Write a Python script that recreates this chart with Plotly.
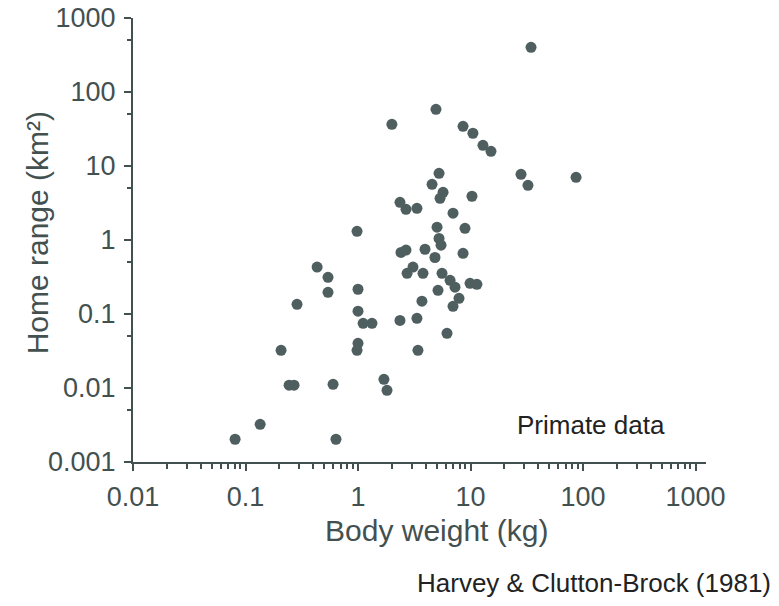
import plotly.graph_objects as go

# Body weight (kg) and home range (km^2)
body_weight = [34.5, 4.93, 2.0, 8.58, 10.5, 12.9, 15.2, 28.1, 32.4, 86.7,
               5.25, 4.55, 5.7, 5.36, 10.3, 2.36, 2.67, 3.34, 6.99, 8.93,
               5.04, 5.25, 5.47, 4.83, 2.41, 2.67, 3.94, 8.58, 3.08, 2.73,
               3.78, 5.58, 6.58, 7.28, 5.14, 9.9, 11.4, 7.9, 6.99, 3.7,
               2.36, 3.34, 6.18, 3.41, 0.433, 0.541, 0.541, 1.0, 0.287, 1.0,
               1.11, 1.33, 1.0, 0.98, 0.207, 0.244, 0.27, 0.6, 1.7, 1.81,
               0.135, 0.0808, 0.637, 0.98]
home_range = [402, 58.3, 36.6, 34.4, 27.7, 19.0, 15.8, 7.73, 5.48, 7.03,
              7.97, 5.66, 4.41, 3.66, 3.9, 3.23, 2.6, 2.68, 2.3, 1.44,
              1.49, 1.05, 0.85, 0.58, 0.68, 0.73, 0.75, 0.66, 0.43, 0.355,
              0.355, 0.355, 0.285, 0.23, 0.209, 0.26, 0.252, 0.163, 0.127, 0.149,
              0.082, 0.0875, 0.0548, 0.0323, 0.43, 0.313, 0.196, 0.216, 0.135, 0.109,
              0.0748, 0.0748, 0.0402, 0.0323, 0.0323, 0.0109, 0.0109, 0.0112, 0.0131, 0.0093,
              0.00323, 0.00203, 0.00203, 1.31]

x_tickvals = [0.01, 0.1, 1, 10, 100, 1000]
x_ticktext = ["0.01", "0.1", "1", "10", "100", "1000"]
y_tickvals = [0.001, 0.01, 0.1, 1, 10, 100, 1000]
y_ticktext = ["0.001", "0.01", "0.1", "1", "10", "100", "1000"]
y_minor = [0.005, 0.05, 0.5, 5, 50, 500]

ink = "#435050"
dot = "#4f5f60"

fig = go.Figure()
fig.add_trace(go.Scatter(
    x=body_weight, y=home_range, mode="markers",
    marker=dict(size=11, color=dot, line=dict(width=0)),
    showlegend=False, hoverinfo="x+y"))

fig.update_layout(
    width=779, height=606,
    margin=dict(l=133, r=73, t=18, b=144),
    paper_bgcolor="white", plot_bgcolor="white",
    font=dict(family="Liberation Sans, Arial, sans-serif", color=ink, size=27),
    xaxis=dict(type="log", range=[-2, 3.093], showgrid=False, zeroline=False,
               automargin=False,
               showline=True, linecolor=ink, linewidth=2,
               ticks="outside", ticklen=7, tickwidth=2, tickcolor=ink,
               tickvals=x_tickvals, ticktext=x_ticktext, ticklabelstandoff=3,
               tickfont=dict(size=27, color=ink),
               minor=dict(ticks="outside", ticklen=5, tickwidth=1.5, tickcolor=ink,
                          dtick="D1", showgrid=False)),
    yaxis=dict(type="log", range=[-3, 3], showgrid=False, zeroline=False,
               automargin=False,
               showline=True, linecolor=ink, linewidth=2,
               ticks="outside", ticklen=7, tickwidth=2, tickcolor=ink,
               tickvals=y_tickvals, ticktext=y_ticktext, ticklabelstandoff=3,
               tickfont=dict(size=27, color=ink),
               minor=dict(ticks="outside", ticklen=4, tickwidth=1.5, tickcolor=ink,
                          tickvals=y_minor, showgrid=False)),
    annotations=[
        dict(text="Body weight (kg)", xref="paper", yref="paper", x=0.529, y=-0.154,
             xanchor="center", yanchor="middle", showarrow=False,
             font=dict(size=30, color=ink)),
        dict(text="Home range (km²)", xref="paper", yref="paper", x=-0.1675, y=0.515,
             xanchor="center", yanchor="middle", textangle=-90, showarrow=False,
             font=dict(size=30, color=ink)),
        dict(text="Primate data", xref="paper", yref="paper", x=0.799, y=0.0827,
             xanchor="center", yanchor="middle", showarrow=False,
             font=dict(size=26, color="#222222")),
        dict(text="Harvey & Clutton-Brock (1981)", xref="paper", yref="paper",
             x=1.117, y=-0.273, xanchor="right", yanchor="middle", showarrow=False,
             font=dict(size=26, color="#222222")),
    ],
)

fig.write_html("out.html")
